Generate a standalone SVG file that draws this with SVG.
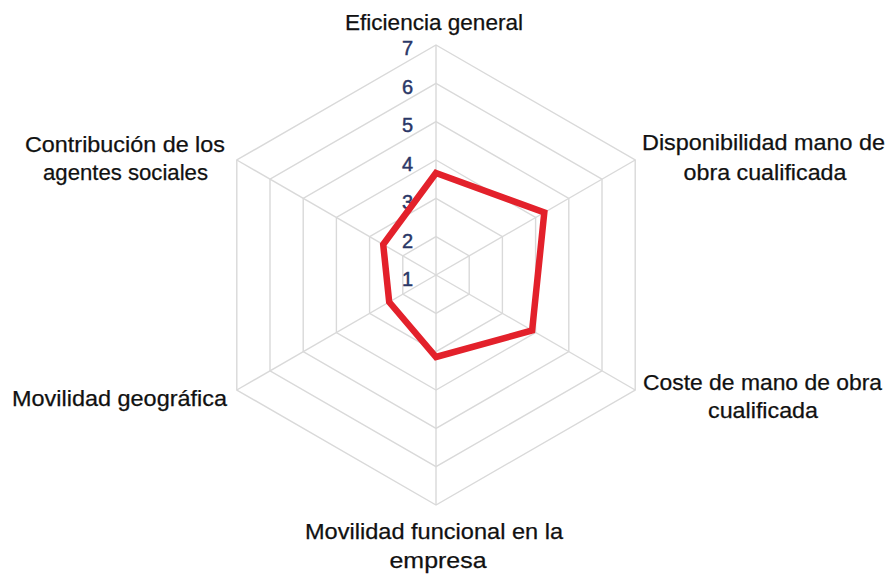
<svg xmlns="http://www.w3.org/2000/svg" width="893" height="576" viewBox="0 0 893 576">
<style>
.ring{fill:none;stroke:#d9d9d9;stroke-width:1.4}
.spoke{stroke:#d9d9d9;stroke-width:1.4}
.lbl{font-family:"Liberation Sans",Arial,sans-serif;font-size:21.5px;fill:#111;stroke:#111;stroke-width:0.25;text-anchor:middle}
.tick{font-family:"Liberation Sans",Arial,sans-serif;font-size:20px;fill:#2a3767;stroke:#2a3767;stroke-width:0.45;text-anchor:end}
.series{fill:none;stroke:#e3212b;stroke-width:6.5;stroke-linejoin:miter}
</style>
<rect width="893" height="576" fill="#fff"/>
<g id="grid">
<polygon class="ring" points="436,236.67 469.2,255.83 469.2,294.17 436,313.33 402.8,294.17 402.8,255.83"/>
<polygon class="ring" points="436,198.33 502.4,236.67 502.4,313.33 436,351.67 369.6,313.33 369.6,236.67"/>
<polygon class="ring" points="436,160 535.6,217.5 535.6,332.5 436,390 336.4,332.5 336.4,217.5"/>
<polygon class="ring" points="436,121.67 568.8,198.33 568.8,351.67 436,428.33 303.2,351.67 303.2,198.33"/>
<polygon class="ring" points="436,83.33 602,179.17 602,370.83 436,466.67 270,370.83 270,179.17"/>
<polygon class="ring" points="436,45 635.2,160 635.2,390 436,505 236.8,390 236.8,160"/>
<line class="spoke" x1="436" y1="275" x2="436" y2="45"/>
<line class="spoke" x1="436" y1="275" x2="635.2" y2="160"/>
<line class="spoke" x1="436" y1="275" x2="635.2" y2="390"/>
<line class="spoke" x1="436" y1="275" x2="436" y2="505"/>
<line class="spoke" x1="436" y1="275" x2="236.8" y2="390"/>
<line class="spoke" x1="436" y1="275" x2="236.8" y2="160"/>
</g>
<g id="axis-ticks">
<text class="tick" x="413" y="55">7</text>
<text class="tick" x="413" y="93.5">6</text>
<text class="tick" x="413" y="132">5</text>
<text class="tick" x="413" y="170.5">4</text>
<text class="tick" x="413" y="209">3</text>
<text class="tick" x="413" y="247.5">2</text>
<text class="tick" x="413" y="286">1</text>
</g>
<g id="series">
<polygon class="series" points="436,173 544.3,212.5 532.1,330.5 436,357 389.2,302 383.2,244.5"/>
</g>
<g id="label-eficiencia">
<text class="lbl" x="434" y="30" textLength="178" lengthAdjust="spacingAndGlyphs">Eficiencia general</text>
</g>
<g id="label-disponibilidad">
<text class="lbl" x="763.5" y="150" textLength="243" lengthAdjust="spacingAndGlyphs">Disponibilidad mano de</text>
<text class="lbl" x="765" y="180" textLength="163" lengthAdjust="spacingAndGlyphs">obra cualificada</text>
</g>
<g id="label-coste">
<text class="lbl" x="762.5" y="390" textLength="239" lengthAdjust="spacingAndGlyphs">Coste de mano de obra</text>
<text class="lbl" x="763" y="418" textLength="110" lengthAdjust="spacingAndGlyphs">cualificada</text>
</g>
<g id="label-movilidad-funcional">
<text class="lbl" x="434" y="539" textLength="258" lengthAdjust="spacingAndGlyphs">Movilidad funcional en la</text>
<text class="lbl" x="438" y="568" textLength="97" lengthAdjust="spacingAndGlyphs">empresa</text>
</g>
<g id="label-movilidad-geografica">
<text class="lbl" x="119.5" y="406" textLength="215" lengthAdjust="spacingAndGlyphs">Movilidad geográfica</text>
</g>
<g id="label-contribucion">
<text class="lbl" x="125" y="152" textLength="200" lengthAdjust="spacingAndGlyphs">Contribución de los</text>
<text class="lbl" x="125.5" y="180" textLength="165" lengthAdjust="spacingAndGlyphs">agentes sociales</text>
</g>
</svg>
